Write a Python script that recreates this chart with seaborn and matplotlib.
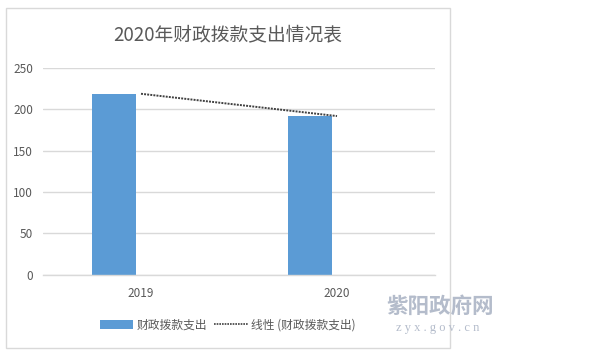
#!/usr/bin/env python3

import numpy as np
import pandas as pd
import matplotlib.pyplot as plt
import seaborn as sns
from matplotlib.patches import Patch, Rectangle
from matplotlib.lines import Line2D

years = ["2019", "2020"]
spending = [219, 192]
series_name = "财政拨款支出"
trend_name = "线性 (财政拨款支出)"
title = "2020年财政拨款支出情况表"
y_ticks = [0, 50, 100, 150, 200, 250]

bar_color = "#5b9bd5"
text_color = "#595959"
grid_color = "#d9d9d9"

sns.set_theme(style="white")
plt.rcParams['font.family'] = ['Noto Sans CJK SC', 'DejaVu Sans']

# second (empty) series keeps the Excel-style offset of the bars
df = pd.DataFrame({
    "year": years + years,
    "value": spending + [np.nan, np.nan],
    "series": [series_name] * 2 + ["_blank"] * 2,
})

fig = plt.figure(figsize=(6, 3.57), dpi=100)
ax = fig.add_axes([0.0717, 0.231, 0.6533, 0.578])

sns.barplot(data=df, x="year", y="value", hue="series",
            hue_order=[series_name, "_blank"], palette=[bar_color, bar_color],
            width=0.55, gap=0.19, dodge=True, legend=False, ax=ax,
            saturation=1, edgecolor="none")

# linear trend line from a fit on the data
pos = np.arange(len(years))
k, b = np.polyfit(pos, spending, 1)
trend = pd.DataFrame({"x": pos, "y": k * pos + b})
sns.lineplot(data=trend, x="x", y="y", ax=ax, color="#404040",
             linestyle=(0, (1, 0.6)), linewidth=1.4)

ax.set_xlim(-0.5, 1.5)
ax.set_ylim(0, 250)
ax.set_yticks(y_ticks)
ax.set_xticks(pos)
ax.set_xticklabels(years)
ax.set_xticks([-0.5, 0.5, 1.5], minor=True)
ax.tick_params(axis="x", which="major", length=0, pad=9, labelsize=8.5,
               labelcolor=text_color)
ax.tick_params(axis="x", which="minor", length=4, color=grid_color, width=1)
ax.tick_params(axis="y", length=0, pad=7, labelsize=8.5, labelcolor=text_color)
ax.set_xlabel("")
ax.set_ylabel("")

ax.yaxis.grid(True, color=grid_color, linewidth=1)
ax.set_axisbelow(True)
for side in ["top", "right", "left"]:
    ax.spines[side].set_visible(False)
ax.spines["bottom"].set_color(grid_color)
ax.spines["bottom"].set_linewidth(1)

# chart frame
fig.patches.append(Rectangle((6 / 600, 1 - 348 / 357), 444 / 600, 340 / 357,
                             transform=fig.transFigure, fill=False,
                             edgecolor="#d9d9d9", linewidth=1))

fig.text(228 / 600, 1 - 35 / 357, title, ha="center", va="center",
         fontsize=13.5, color=text_color)

handles = [Patch(facecolor=bar_color, edgecolor="none"),
           Line2D([], [], color="#404040", linestyle=(0, (1, 0.6)), linewidth=1.2)]
fig.legend(handles, [series_name, trend_name], loc="center",
           bbox_to_anchor=(228 / 600, 1 - 325 / 357), ncol=2, frameon=False,
           fontsize=8.5, labelcolor=text_color, handlelength=2.8,
           handleheight=0.8, handletextpad=0.3, columnspacing=0.6)

# watermark
fig.text(440 / 600, 1 - 306 / 357, "紫阳政府网", ha="center", va="center",
         fontsize=15.5, color="#b4bccb", fontweight="bold")
fig.text(438 / 600, 1 - 328 / 357, "z y x . g o v . c n", ha="center",
         va="center", fontsize=9, color="#b4bccb", family="Liberation Serif")

plt.savefig("out.png", dpi=100)
